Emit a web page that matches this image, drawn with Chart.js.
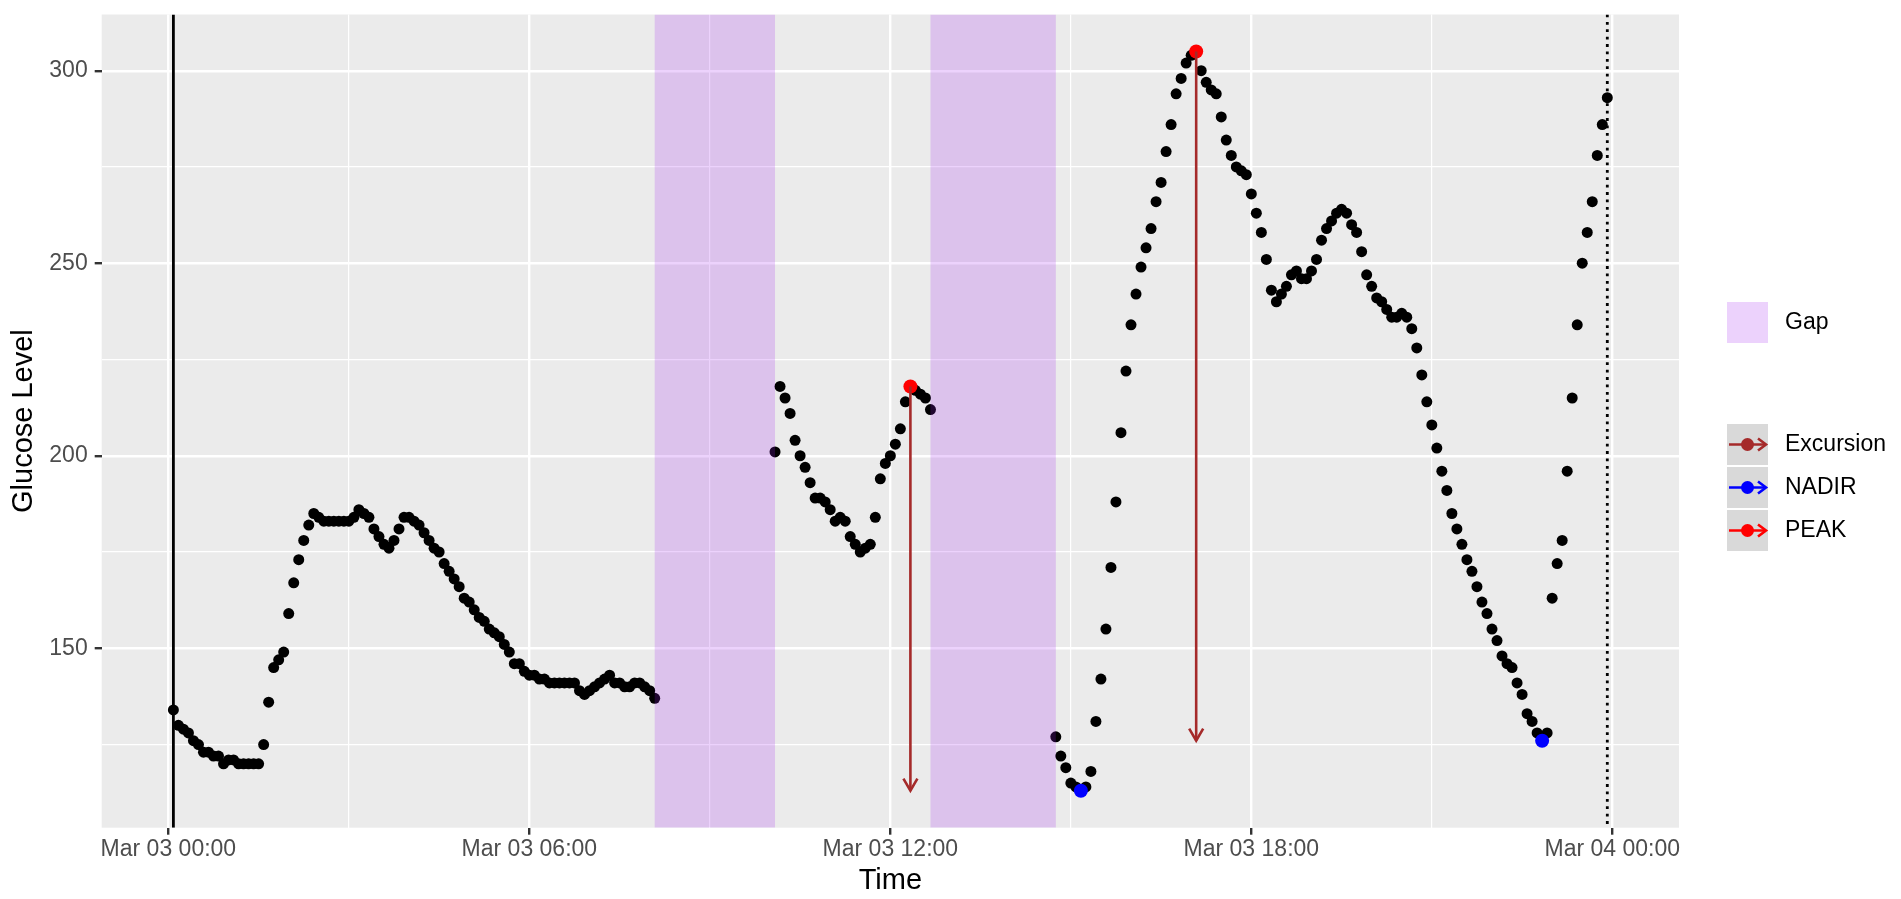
<!DOCTYPE html>
<html>
<head>
<meta charset="utf-8">
<script src="https://cdn.jsdelivr.net/npm/chart.js@4.4.1/dist/chart.umd.min.js"></script>
<style>
  html, body { margin: 0; padding: 0; background: #fff; }
  #wrap { width: 1901px; height: 899px; position: relative; }
</style>
</head>
<body>
<div id="wrap"><canvas id="grafico"></canvas></div>
<script>
// readings every 5 minutes, one array per run of data between gaps
const segmentStarts = ['00:05', '10:05', '14:45'];
const glucoseSeg1 = [134, 130, 129, 128, 126, 125, 123, 123, 122, 122, 120, 121, 121, 120, 120, 120, 120, 120,
  125, 136, 145, 147, 149, 159, 167, 173, 178, 182, 185,
  184, 183, 183, 183, 183, 183, 183, 184, 186, 185, 184, 181, 179, 177, 176, 178, 181, 184, 184, 183, 182,
  180, 178, 176, 175, 172, 170, 168, 166, 163, 162, 160, 158, 157, 155, 154, 153, 151, 149, 146, 146,
  144, 143, 143, 142, 142, 141, 141, 141, 141, 141, 141, 139, 138, 139, 140, 141, 142, 143, 141, 141,
  140, 140, 141, 141, 140, 139, 137];
const glucoseSeg2 = [201, 218, 215, 211, 204, 200, 197, 193, 189, 189, 188, 186, 183, 184, 183, 179, 177, 175,
  176, 177, 184, 194, 198, 200, 203, 207, 214, 218, 217, 216, 215, 212];
const glucoseSeg3 = [127, 122, 119, 115, 114, 113, 114, 118, 131, 142, 155, 171, 188, 206, 222, 234, 242, 249,
  254, 259, 266, 271, 279, 286, 294, 298, 302, 304, 305, 300, 297, 295, 294, 288, 282, 278, 275, 274, 273,
  268, 263, 258, 251, 243, 240, 242, 244, 247, 248, 246, 246, 248, 251, 256, 259, 261, 263, 264,
  263, 260, 258, 253, 247, 244, 241, 240, 238, 236, 236, 237, 236, 233, 228, 221, 214, 208, 202, 196,
  191, 185, 181, 177, 173, 170, 166, 162, 159, 155, 152, 148, 146, 145, 141, 138, 133, 131, 128, 126, 128,
  163, 172, 178, 196, 215, 234, 250, 258, 266, 278, 286, 293];

const peakTimes = ['12:20', '17:05'];
const peakValues = [218, 305];
const nadirTimes = ['15:10', '22:50'];
const nadirValues = [113, 126];
const excursionEnds = [113, 126]; // arrow goes from peak down to this level

const gapStarts = ['08:05', '12:40'];
const gapEnds = ['10:05', '14:45'];
const startLine = '00:05';
const endLine = '23:55';

const xTickHours = [0, 3, 6, 9, 12, 15, 18, 21, 24];
const yTicks = [125, 150, 175, 200, 225, 250, 275, 300];

const toHours = s => { const p = s.split(':').map(Number); return p[0] + p[1] / 60; };
const step = 5 / 60;

const glucosePoints = [];
[glucoseSeg1, glucoseSeg2, glucoseSeg3].forEach((vals, k) => {
  const t0 = toHours(segmentStarts[k]);
  vals.forEach((v, i) => glucosePoints.push({ x: t0 + i * step, y: v }));
});

// ggplot style 5% expansion
const xs = glucosePoints.map(p => p.x);
const ys = glucosePoints.map(p => p.y).concat(nadirValues, excursionEnds);
const xMin = Math.min(...xs), xMax = Math.max(...xs);
const yMin = Math.min(...ys), yMax = Math.max(...ys);
const xPad = (xMax - xMin) * 0.05, yPad = (yMax - yMin) * 0.05;

const BROWN = '#A52A2A';
const FONT = "'Liberation Sans', Arial, sans-serif";

const arrowSets = peakTimes.map((t, i) => ({
  data: [{ x: toHours(t), y: peakValues[i] }, { x: toHours(t), y: excursionEnds[i] }],
  showLine: true, borderColor: BROWN, borderWidth: 2.6, pointRadius: 0
}));

const isMajorX = v => v % 6 === 0;
const isMajorY = v => v % 50 === 0;

function fmtTime(v) {
  const day = 3 + Math.floor(v / 24);
  const h = v % 24;
  return 'Mar ' + String(day).padStart(2, '0') + ' ' + String(h).padStart(2, '0') + ':00';
}

const panelPlugin = {
  id: 'panel',
  beforeDraw(chart) {
    const { ctx, chartArea: a } = chart;
    ctx.save();
    ctx.fillStyle = '#EBEBEB';
    ctx.fillRect(a.left, a.top, a.right - a.left, a.bottom - a.top);
    ctx.restore();
  },
  afterDatasetsDraw(chart) {
    const { ctx, chartArea: a, scales: { x, y } } = chart;
    ctx.save();
    ctx.beginPath();
    ctx.rect(a.left, a.top, a.right - a.left, a.bottom - a.top);
    ctx.clip();
    // gap bands
    ctx.fillStyle = 'rgba(160,32,240,0.2)';
    gapStarts.forEach((s, i) => {
      const x0 = x.getPixelForValue(toHours(s));
      const x1 = x.getPixelForValue(toHours(gapEnds[i]));
      ctx.fillRect(x0, a.top, x1 - x0, a.bottom - a.top);
    });
    // start / end lines
    ctx.strokeStyle = '#000';
    ctx.lineWidth = 2.8;
    let px = x.getPixelForValue(toHours(startLine));
    ctx.beginPath(); ctx.moveTo(px, a.top); ctx.lineTo(px, a.bottom); ctx.stroke();
    ctx.setLineDash([2.8, 4.6]);
    px = x.getPixelForValue(toHours(endLine));
    ctx.beginPath(); ctx.moveTo(px, a.top); ctx.lineTo(px, a.bottom); ctx.stroke();
    ctx.setLineDash([]);
    // arrow heads
    ctx.strokeStyle = BROWN;
    ctx.lineWidth = 2.6;
    const L = 14, ang = Math.PI / 6;
    peakTimes.forEach((t, i) => {
      const tx = x.getPixelForValue(toHours(t));
      const ty = y.getPixelForValue(excursionEnds[i]);
      ctx.beginPath();
      ctx.moveTo(tx - L * Math.sin(ang), ty - L * Math.cos(ang));
      ctx.lineTo(tx, ty);
      ctx.lineTo(tx + L * Math.sin(ang), ty - L * Math.cos(ang));
      ctx.stroke();
    });
    ctx.restore();
  },
  afterDraw(chart) {
    const ctx = chart.ctx;
    ctx.save();
    const kx = 1727, kw = 41;
    // Gap key
    ctx.fillStyle = 'rgba(160,32,240,0.2)';
    ctx.fillRect(kx, 302, kw, kw);
    ctx.font = '23px ' + FONT;
    ctx.fillStyle = '#000';
    ctx.textBaseline = 'middle';
    ctx.fillText('Gap', 1785, 323);
    // colour keys
    const keys = [['Excursion', BROWN], ['NADIR', '#0000FF'], ['PEAK', '#FF0000']];
    keys.forEach((k, i) => {
      const top = 424 + i * 43;
      const cy = top + kw / 2;
      ctx.fillStyle = '#D9D9D9';
      ctx.fillRect(kx, top, kw, kw);
      ctx.strokeStyle = k[1];
      ctx.lineWidth = 2.6;
      ctx.beginPath(); ctx.moveTo(kx + 2, cy); ctx.lineTo(kx + kw - 2, cy); ctx.stroke();
      ctx.beginPath();
      ctx.moveTo(kx + kw - 10, cy - 6); ctx.lineTo(kx + kw - 2, cy); ctx.lineTo(kx + kw - 10, cy + 6);
      ctx.stroke();
      ctx.fillStyle = k[1];
      ctx.beginPath(); ctx.arc(kx + kw / 2, cy, 6.5, 0, Math.PI * 2); ctx.fill();
      ctx.fillStyle = '#000';
      ctx.fillText(k[0], 1785, cy);
    });
    ctx.restore();
  }
};

const config = {
  type: 'scatter',
  data: {
    datasets: [
      ...arrowSets,
      { data: peakTimes.map((t, i) => ({ x: toHours(t), y: peakValues[i] })), backgroundColor: '#FF0000', pointRadius: 7, borderWidth: 0 },
      { data: nadirTimes.map((t, i) => ({ x: toHours(t), y: nadirValues[i] })), backgroundColor: '#0000FF', pointRadius: 7, borderWidth: 0 },
      { data: glucosePoints, backgroundColor: '#000000', pointRadius: 5.5, borderWidth: 0 }
    ]
  },
  options: {
    responsive: true,
    maintainAspectRatio: false,
    devicePixelRatio: 1,
    animation: false,
    events: [],
    layout: { padding: { top: 14.5, right: 222, bottom: 0, left: 0 } },
    plugins: { legend: { display: false }, tooltip: { enabled: false } },
    scales: {
      x: {
        type: 'linear',
        min: xMin - xPad,
        max: xMax + xPad,
        afterBuildTicks: s => { s.ticks = xTickHours.map(v => ({ value: v })); },
        afterFit: s => { s.height = 71.3; s.paddingLeft = 0; s.paddingRight = 0; },
        border: { display: false },
        grid: {
          color: '#FFFFFF',
          lineWidth: c => isMajorX(c.tick.value) ? 2.4 : 1.2,
          tickColor: c => isMajorX(c.tick.value) ? '#333333' : 'rgba(0,0,0,0)',
          tickWidth: 2.4,
          tickLength: 7
        },
        ticks: {
          autoSkip: false, maxRotation: 0, padding: 1,
          color: '#4D4D4D', font: { family: FONT, size: 23 },
          callback: v => isMajorX(v) ? fmtTime(v) : ''
        },
        title: { display: true, text: 'Time', color: '#000', font: { family: FONT, size: 29, lineHeight: 1.2 }, padding: { top: 0, bottom: 0.6 } }
      },
      y: {
        type: 'linear',
        min: yMin - yPad,
        max: yMax + yPad,
        afterBuildTicks: s => { s.ticks = yTicks.map(v => ({ value: v })); },
        afterFit: s => { s.width = 101.7; s.paddingTop = 0; s.paddingBottom = 0; },
        border: { display: false },
        grid: {
          color: '#FFFFFF',
          lineWidth: c => isMajorY(c.tick.value) ? 2.4 : 1.2,
          tickColor: c => isMajorY(c.tick.value) ? '#333333' : 'rgba(0,0,0,0)',
          tickWidth: 2.4,
          tickLength: 7
        },
        ticks: {
          autoSkip: false, padding: 7,
          color: '#4D4D4D', font: { family: FONT, size: 23 },
          callback: v => isMajorY(v) ? String(v) : ''
        },
        title: { display: true, text: 'Glucose Level', color: '#000', font: { family: FONT, size: 29, lineHeight: 1.2 }, padding: { top: 6.6, bottom: 0 } }
      }
    }
  },
  plugins: [panelPlugin]
};

const ctx = document.getElementById('grafico').getContext('2d');
const grafico = new Chart(ctx, config);
</script>
</body>
</html>
